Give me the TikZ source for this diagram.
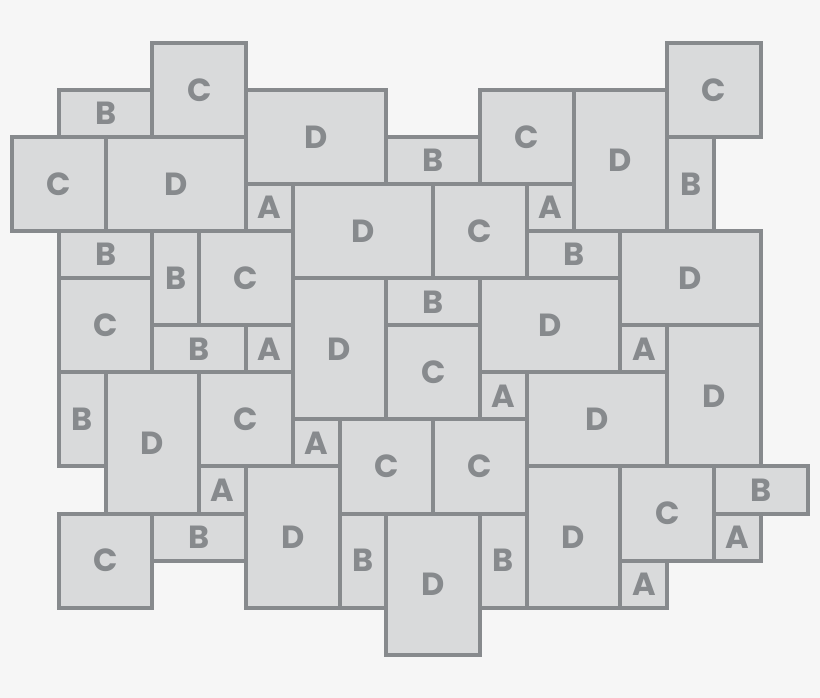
\documentclass[tikz,border=0pt]{standalone}
\usepackage{fontspec}
\setmainfont{Poppins}
\newfontfamily\labfont{Poppins}
\definecolor{bgc}{HTML}{F6F6F6}
\definecolor{tilefill}{HTML}{D9DADB}
\definecolor{tileline}{HTML}{878A8D}
\tikzset{
  tile/.style={draw=tileline, fill=tilefill, line width=4pt, inner sep=0pt, outer sep=0pt,
    text=tileline, font=\labfont\bfseries\fontsize{32}{32}\selectfont, line join=miter}
}
\newcommand\tile[6]{%
  \pgfmathsetmacro\tw{(#4-#2)*46.8}%
  \pgfmathsetmacro\th{(#5-#3)*47.05}%
  \pgfmathsetmacro\tcx{12+(#2+#4)/2*46.8}%
  \pgfmathsetmacro\tcy{-(43+(#3+#5)/2*47.05)}%
  \node[tile, minimum width=\tw pt, minimum height=\th pt] (#1) at (\tcx,\tcy) {#6};%
}
\begin{document}
\begin{tikzpicture}[x=1pt,y=1pt]
\fill[bgc] (0,0) rectangle (820,-698);
\useasboundingbox (0,0) rectangle (820,-698);
\tile{c1}{3}{0}{5}{2}{C}
\tile{b1}{1}{1}{3}{2}{B}
\tile{c2}{0}{2}{2}{4}{C}
\tile{d1}{2}{2}{5}{4}{D}
\tile{d2}{5}{1}{8}{3}{D}
\tile{a1}{5}{3}{6}{4}{A}
\tile{b2}{8}{2}{10}{3}{B}
\tile{c3}{10}{1}{12}{3}{C}
\tile{d3}{12}{1}{14}{4}{D}
\tile{c4}{14}{0}{16}{2}{C}
\tile{b3}{14}{2}{15}{4}{B}
\tile{d4}{6}{3}{9}{5}{D}
\tile{c5}{9}{3}{11}{5}{C}
\tile{a2}{11}{3}{12}{4}{A}
\tile{b4}{11}{4}{13}{5}{B}
\tile{d5}{13}{4}{16}{6}{D}
\tile{b5}{1}{4}{3}{5}{B}
\tile{b6}{3}{4}{4}{6}{B}
\tile{c6}{4}{4}{6}{6}{C}
\tile{c7}{1}{5}{3}{7}{C}
\tile{b7}{3}{6}{5}{7}{B}
\tile{a3}{5}{6}{6}{7}{A}
\tile{d6}{6}{5}{8}{8}{D}
\tile{b8}{8}{5}{10}{6}{B}
\tile{c8}{8}{6}{10}{8}{C}
\tile{d7}{10}{5}{13}{7}{D}
\tile{a4}{13}{6}{14}{7}{A}
\tile{d8}{14}{6}{16}{9}{D}
\tile{a5}{10}{7}{11}{8}{A}
\tile{d9}{11}{7}{14}{9}{D}
\tile{b9}{1}{7}{2}{9}{B}
\tile{d10}{2}{7}{4}{10}{D}
\tile{c9}{4}{7}{6}{9}{C}
\tile{a6}{6}{8}{7}{9}{A}
\tile{a7}{4}{9}{5}{10}{A}
\tile{c10}{7}{8}{9}{10}{C}
\tile{c11}{9}{8}{11}{10}{C}
\tile{d11}{5}{9}{7}{12}{D}
\tile{c12}{1}{10}{3}{12}{C}
\tile{b10}{3}{10}{5}{11}{B}
\tile{b11}{7}{10}{8}{12}{B}
\tile{d12}{8}{10}{10}{13}{D}
\tile{b12}{10}{10}{11}{12}{B}
\tile{d13}{11}{9}{13}{12}{D}
\tile{c13}{13}{9}{15}{11}{C}
\tile{b13}{15}{9}{17}{10}{B}
\tile{a8}{15}{10}{16}{11}{A}
\tile{a9}{13}{11}{14}{12}{A}
\end{tikzpicture}
\end{document}
